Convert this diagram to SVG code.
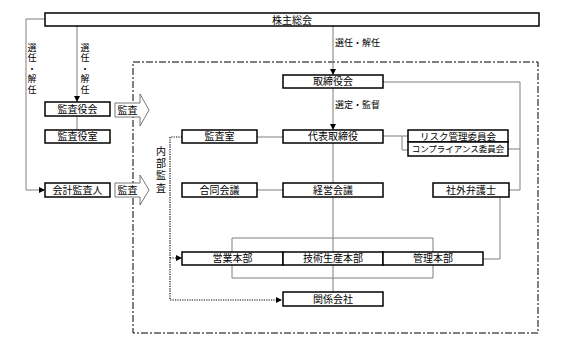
<svg xmlns="http://www.w3.org/2000/svg" width="567" height="346" viewBox="0 0 567 346">
<style>
text{font-family:"Noto Sans CJK JP","Noto Sans CJK SC",sans-serif;fill:#000}
.b{fill:#fff;stroke:#000;stroke-width:1.5}
.t{font-size:10px;text-anchor:middle}
.s{font-size:9px}
.v{font-size:9px;writing-mode:vertical-rl;letter-spacing:1.5px}
.c{fill:none;stroke:#7f7f7f;stroke-width:1}
.d{fill:none;stroke:#000;stroke-width:1.2;stroke-dasharray:1.2 1.2}
.bd{fill:none;stroke:#000;stroke-width:1;stroke-dasharray:7 2 2 2}
.ar{fill:#fff;stroke:#555;stroke-width:0.8}
</style>
<defs>
<marker id="ah" markerWidth="6" markerHeight="6" refX="5" refY="3" orient="auto" markerUnits="userSpaceOnUse">
<path d="M0,0 L6,3 L0,6 Z" fill="#000"/>
</marker>
</defs>
<rect class="bd" x="133" y="62" width="405" height="271"/>
<g id="connectors">
<path class="c" d="M45,19 H26 V190 H44" marker-end="url(#ah)"/>
<path class="c" d="M77,26 V101" marker-end="url(#ah)"/>
<path class="c" d="M333,26 V74" marker-end="url(#ah)"/>
<path class="c" d="M333,88 V129" marker-end="url(#ah)"/>
<path class="c" d="M77,116 V130"/>
<path class="c" d="M257,137 H283"/>
<path class="c" d="M383,136 H402 V150 H408 M402,136 H408"/>
<path class="c" d="M383,82 H520 V190 H509 M508,149 H520"/>
<path class="c" d="M257,190 H283"/>
<path class="c" d="M333,143 V292"/>
<path class="c" d="M232,252 V238 H433 V252 M232,265 V278 H433 V265"/>
<path class="c" d="M500,197 V259 H483"/>
<path class="d" d="M182,137 H170 V300 H281" marker-end="url(#ah)"/>
<path class="d" d="M170,258 H181" marker-end="url(#ah)"/>
</g>
<g id="n-kabunushi"><rect class="b" x="45" y="13" width="494" height="13"/><text class="t" x="292" y="23.5">株主総会</text></g>
<g id="n-kansayakukai"><rect class="b" x="45" y="102" width="65" height="14"/><text class="t" x="77.5" y="112.5">監査役会</text></g>
<g id="n-kansayakushitsu"><rect class="b" x="45" y="130" width="65" height="13"/><text class="t" x="77.5" y="140">監査役室</text></g>
<g id="n-kaikei"><rect class="b" x="45" y="183" width="65" height="14"/><text class="t" x="77.5" y="193.5">会計監査人</text></g>
<g id="a-kansa1"><path class="ar" d="M115,103 H140 V94 L149,110 L140,126 V117 H115 Z"/><text class="t" x="127.5" y="113.5">監査</text></g>
<g id="a-kansa2"><path class="ar" d="M115,183 H140 V175 L149,190 L140,205 V197 H115 Z"/><text class="t" x="127.5" y="193.5">監査</text></g>
<g id="n-torishimariyakukai"><rect class="b" x="283" y="75" width="100" height="13"/><text class="t" x="333" y="85">取締役会</text></g>
<g id="n-kansashitsu"><rect class="b" x="182" y="130" width="75" height="13"/><text class="t" x="219.5" y="140">監査室</text></g>
<g id="n-daihyo"><rect class="b" x="283" y="130" width="100" height="13"/><text class="t" x="333" y="140">代表取締役</text></g>
<g id="n-risk"><rect class="b" x="408" y="130" width="100" height="12"/><text class="t" x="458" y="139.5" style="font-size:9.5px">リスク管理委員会</text></g>
<g id="n-compliance"><rect class="b" x="408" y="142" width="100" height="14"/><text class="t" x="458" y="152.3" style="font-size:8.5px">コンプライアンス委員会</text></g>
<g id="n-godo"><rect class="b" x="182" y="183" width="75" height="14"/><text class="t" x="219.5" y="193.5">合同会議</text></g>
<g id="n-keiei"><rect class="b" x="283" y="183" width="100" height="14"/><text class="t" x="333" y="193.5">経営会議</text></g>
<g id="n-bengoshi"><rect class="b" x="433" y="183" width="76" height="14"/><text class="t" x="471" y="193.5">社外弁護士</text></g>
<g id="n-eigyo"><rect class="b" x="182" y="252" width="101" height="13"/><text class="t" x="232.5" y="262">営業本部</text></g>
<g id="n-gijutsu"><rect class="b" x="283" y="252" width="100" height="13"/><text class="t" x="333" y="262">技術生産本部</text></g>
<g id="n-kanri"><rect class="b" x="383" y="252" width="100" height="13"/><text class="t" x="433" y="262">管理本部</text></g>
<g id="n-kankei"><rect class="b" x="283" y="292" width="100" height="14"/><text class="t" x="333" y="302.5">関係会社</text></g>
<g id="labels">
<text class="s" x="335" y="46">選任・解任</text>
<text class="s" x="335" y="108">選定・監督</text>
<text class="v" x="32" y="43">選任・解任</text>
<text class="v" x="85" y="43">選任・解任</text>
<text class="v" x="161" y="146" style="font-size:10px;letter-spacing:2.3px">内部監査</text>
</g>
</svg>
